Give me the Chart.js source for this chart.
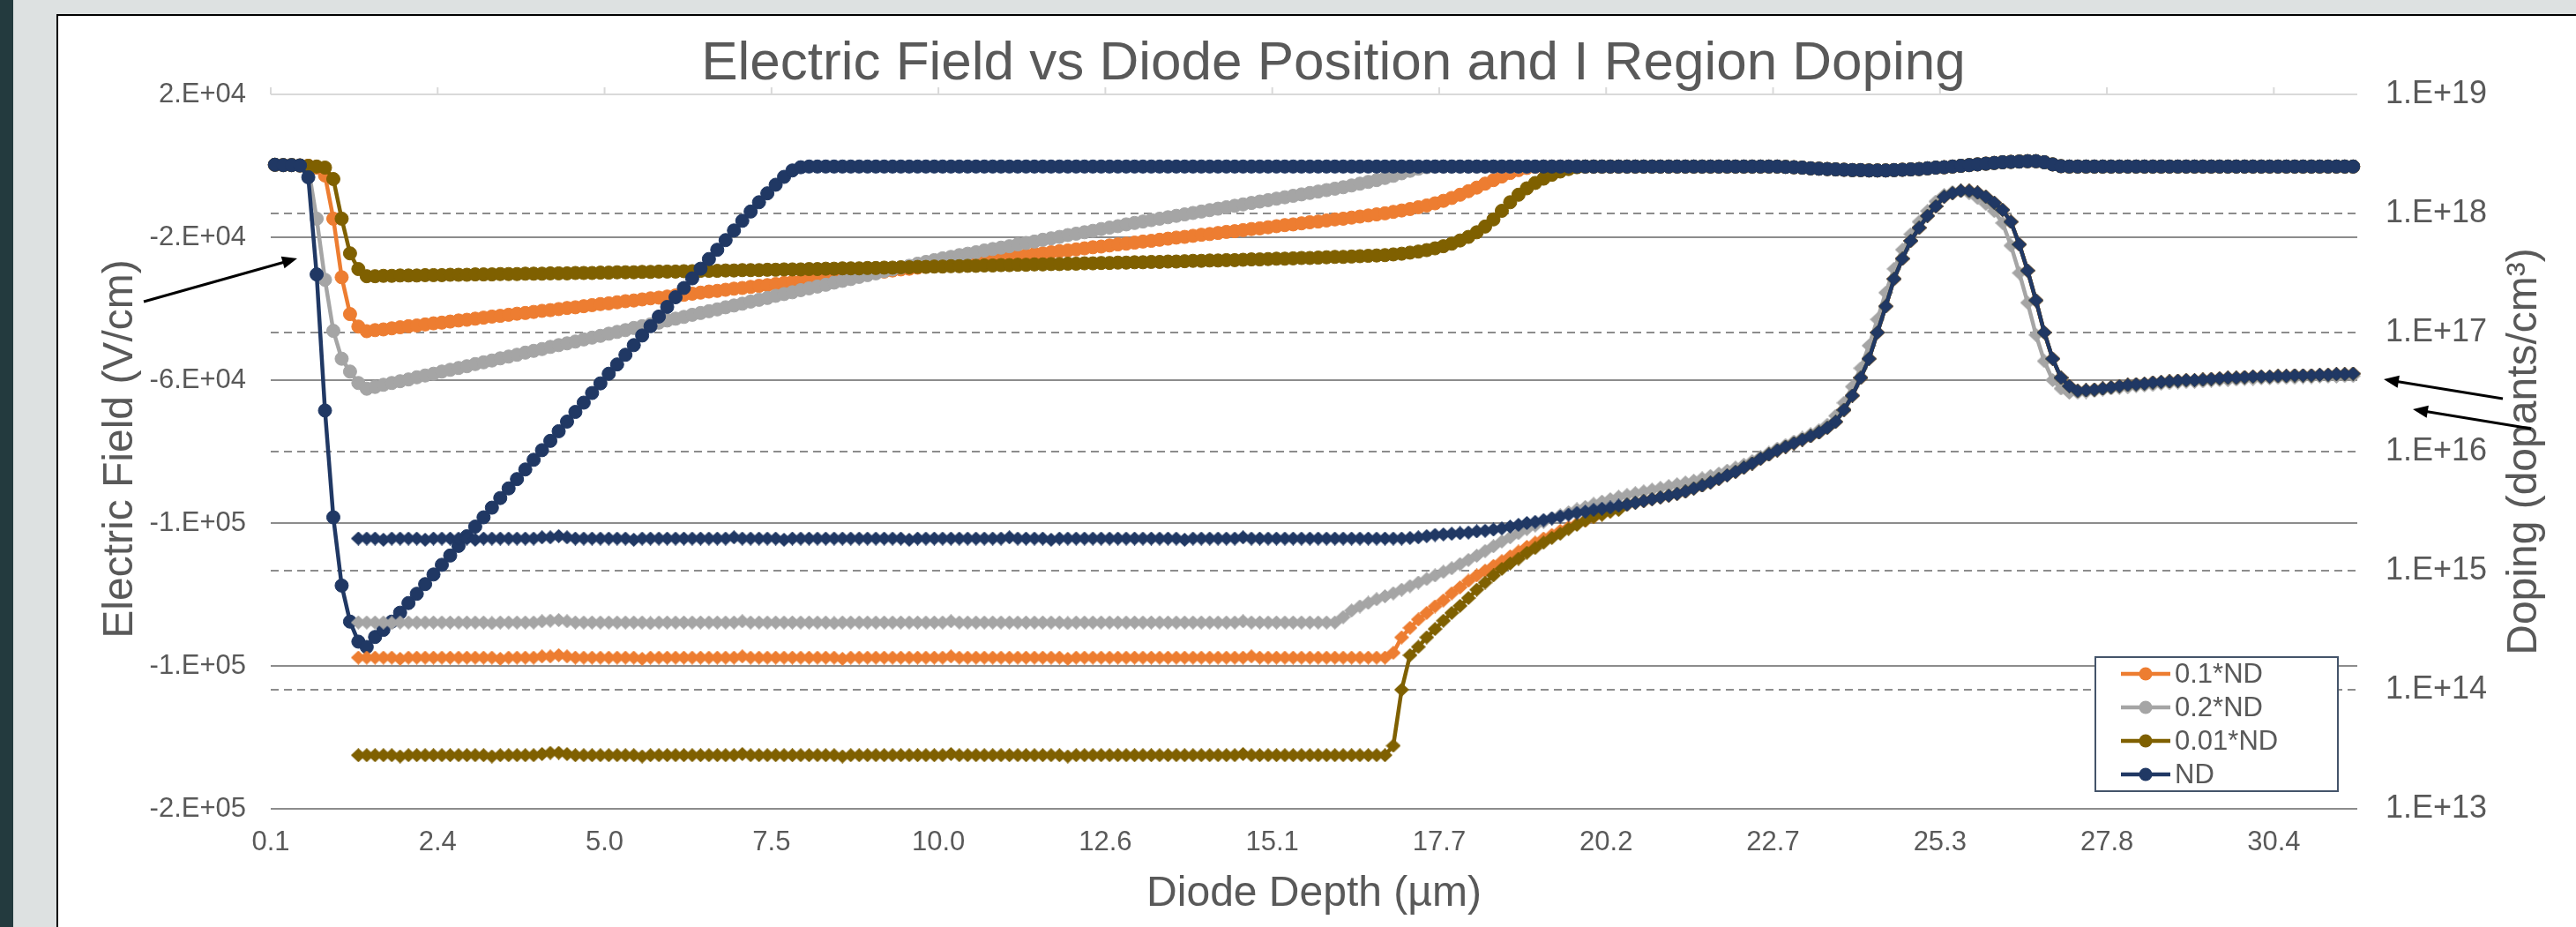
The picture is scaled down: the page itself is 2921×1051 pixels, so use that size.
<!DOCTYPE html>
<html>
<head>
<meta charset="utf-8">
<script src="https://cdn.jsdelivr.net/npm/chart.js@4.4.1/dist/chart.umd.min.js"></script>
<style>
  html, body { margin: 0; padding: 0; width: 2921px; height: 1051px; overflow: hidden; background: #dde1e1; }
  #band { position: absolute; left: 0; top: 0; width: 15px; height: 1051px; background: #233a3e; }
  #frame { position: absolute; left: 64px; top: 16px; width: 2900px; height: 1100px; background: #fff;
           border-left: 2px solid #000; border-top: 2px solid #000; }
  #chart { position: absolute; left: 0; top: 0; }
</style>
</head>
<body>
<div id="band"></div>
<div id="frame"></div>
<canvas id="chart" width="2921" height="1051"></canvas>
<script>
// ---- labels ----
const chartTitle = 'Electric Field vs Diode Position and I Region Doping';
const xTitle = 'Diode Depth (\u00b5m)';
const yTitle = 'Electric Field (V/cm)';
const y2Title = 'Doping (dopants/cm\u00b3)';
const seriesNames = ['0.1*ND', '0.2*ND', '0.01*ND', 'ND'];
const seriesColors = ['#ED7D31', '#A5A5A5', '#7F6000', '#203864'];

// depth labels shown every 20 mesh points
const depthTicks = ['0.1', '2.4', '5.0', '7.5', '10.0', '12.6', '15.1', '17.7', '20.2', '22.7', '25.3', '27.8', '30.4'];
const fieldTickValues = [-180000, -140000, -100000, -60000, -20000, 20000];
const fieldTickLabels = ['-2.E+05', '-1.E+05', '-1.E+05', '-6.E+04', '-2.E+04', '2.E+04'];
const dopingTickValues = [1e13, 1e14, 1e15, 1e16, 1e17, 1e18, 1e19];
const dopingTickLabels = ['1.E+13', '1.E+14', '1.E+15', '1.E+16', '1.E+17', '1.E+18', '1.E+19'];

// ---- electric field, kV/cm, one value per mesh point ----
const fieldND = [
  0.3,0.2,0.2,0.1,-3.2,-30.4,-68.5,-98.4,-117.5,-127.6,
  -133.2,-134.7,-131.9,-129.9,-127.6,-125.1,-122.4,-119.8,-117.1,-114.4,
  -111.7,-109.1,-106.4,-103.7,-101.0,-98.4,-95.7,-93.0,-90.3,-87.7,
  -85.0,-82.3,-79.6,-77.0,-74.3,-71.6,-68.9,-66.3,-63.6,-60.9,
  -58.2,-55.6,-52.9,-50.2,-47.5,-44.9,-42.2,-39.5,-36.8,-34.2,
  -31.5,-28.8,-26.1,-23.5,-20.8,-18.1,-15.4,-12.8,-10.2,-7.7,
  -5.3,-3.1,-1.3,-0.4,-0.2,-0.2,-0.2,-0.2,-0.2,-0.2,
  -0.2,-0.2,-0.2,-0.2,-0.2,-0.2,-0.2,-0.2,-0.2,-0.2,
  -0.2,-0.2,-0.2,-0.2,-0.2,-0.2,-0.2,-0.2,-0.2,-0.2,
  -0.2,-0.2,-0.2,-0.2,-0.2,-0.2,-0.2,-0.2,-0.2,-0.2,
  -0.2,-0.2,-0.2,-0.2,-0.2,-0.2,-0.2,-0.2,-0.2,-0.2,
  -0.2,-0.2,-0.2,-0.2,-0.2,-0.2,-0.2,-0.2,-0.2,-0.2,
  -0.2,-0.2,-0.2,-0.2,-0.2,-0.2,-0.2,-0.2,-0.2,-0.2,
  -0.2,-0.2,-0.2,-0.2,-0.2,-0.2,-0.2,-0.2,-0.2,-0.2,
  -0.2,-0.2,-0.2,-0.2,-0.2,-0.2,-0.2,-0.2,-0.2,-0.2,
  -0.2,-0.2,-0.2,-0.2,-0.2,-0.2,-0.2,-0.2,-0.2,-0.2,
  -0.2,-0.2,-0.2,-0.2,-0.2,-0.2,-0.2,-0.2,-0.2,-0.2,
  -0.2,-0.2,-0.2,-0.2,-0.2,-0.2,-0.2,-0.2,-0.2,-0.2,
  -0.2,-0.3,-0.4,-0.5,-0.7,-0.8,-0.9,-1.0,-1.1,-1.2,
  -1.2,-1.3,-1.3,-1.3,-1.2,-1.1,-1.0,-0.9,-0.7,-0.5,
  -0.4,-0.2,0.0,0.2,0.4,0.6,0.8,1.0,1.1,1.2,
  1.3,1.3,1.0,0.4,-0.1,-0.2,-0.2,-0.2,-0.2,-0.2,
  -0.2,-0.2,-0.2,-0.2,-0.2,-0.2,-0.2,-0.2,-0.2,-0.2,
  -0.2,-0.2,-0.2,-0.2,-0.2,-0.2,-0.2,-0.2,-0.2,-0.2,
  -0.2,-0.2,-0.2,-0.2,-0.2,-0.2,-0.2,-0.2,-0.2,-0.2
];
const field01 = [
  0.3,0.2,0.2,0.1,0.0,-0.5,-2.7,-14.8,-31.2,-41.5,
  -45.0,-46.3,-46.0,-45.8,-45.5,-45.2,-44.9,-44.7,-44.4,-44.1,
  -43.9,-43.6,-43.3,-43.1,-42.8,-42.5,-42.2,-42.0,-41.7,-41.4,
  -41.2,-40.9,-40.6,-40.4,-40.1,-39.8,-39.6,-39.3,-39.0,-38.7,
  -38.5,-38.2,-37.9,-37.7,-37.4,-37.1,-36.9,-36.6,-36.3,-36.1,
  -35.8,-35.5,-35.2,-35.0,-34.7,-34.4,-34.2,-33.9,-33.6,-33.4,
  -33.1,-32.8,-32.5,-32.3,-32.0,-31.7,-31.5,-31.2,-30.9,-30.7,
  -30.4,-30.1,-29.9,-29.6,-29.3,-29.0,-28.8,-28.5,-28.2,-28.0,
  -27.7,-27.4,-27.2,-26.9,-26.6,-26.3,-26.1,-25.8,-25.5,-25.3,
  -25.0,-24.7,-24.5,-24.2,-23.9,-23.7,-23.4,-23.1,-22.8,-22.6,
  -22.3,-22.0,-21.8,-21.5,-21.2,-21.0,-20.7,-20.4,-20.1,-19.9,
  -19.6,-19.3,-19.1,-18.8,-18.5,-18.3,-18.0,-17.7,-17.5,-17.2,
  -16.9,-16.6,-16.4,-16.1,-15.8,-15.6,-15.3,-15.0,-14.8,-14.5,
  -14.2,-13.9,-13.6,-13.3,-12.9,-12.5,-12.1,-11.6,-11.1,-10.5,
  -9.8,-9.0,-8.1,-7.1,-6.1,-5.0,-4.0,-3.0,-2.0,-1.2,
  -0.6,-0.3,-0.2,-0.2,-0.2,-0.2,-0.2,-0.2,-0.2,-0.2,
  -0.2,-0.2,-0.2,-0.2,-0.2,-0.2,-0.2,-0.2,-0.2,-0.2,
  -0.2,-0.2,-0.2,-0.2,-0.2,-0.2,-0.2,-0.2,-0.2,-0.2,
  -0.2,-0.3,-0.4,-0.5,-0.7,-0.8,-0.9,-1.0,-1.1,-1.2,
  -1.2,-1.3,-1.3,-1.3,-1.2,-1.1,-1.0,-0.9,-0.7,-0.5,
  -0.4,-0.2,0.0,0.2,0.4,0.6,0.8,1.0,1.1,1.2,
  1.3,1.3,1.0,0.4,-0.1,-0.2,-0.2,-0.2,-0.2,-0.2,
  -0.2,-0.2,-0.2,-0.2,-0.2,-0.2,-0.2,-0.2,-0.2,-0.2,
  -0.2,-0.2,-0.2,-0.2,-0.2,-0.2,-0.2,-0.2,-0.2,-0.2,
  -0.2,-0.2,-0.2,-0.2,-0.2,-0.2,-0.2,-0.2,-0.2,-0.2
];
const field02 = [
  0.3,0.2,0.2,0.1,-0.5,-14.8,-31.9,-46.2,-54.0,-57.6,
  -60.8,-62.4,-61.9,-61.3,-60.8,-60.3,-59.8,-59.2,-58.7,-58.2,
  -57.6,-57.1,-56.6,-56.1,-55.5,-55.0,-54.5,-53.9,-53.4,-52.9,
  -52.3,-51.8,-51.3,-50.7,-50.2,-49.7,-49.2,-48.6,-48.1,-47.6,
  -47.0,-46.5,-46.0,-45.4,-44.9,-44.4,-43.9,-43.3,-42.8,-42.3,
  -41.7,-41.2,-40.7,-40.2,-39.6,-39.1,-38.6,-38.0,-37.5,-37.0,
  -36.4,-35.9,-35.4,-34.8,-34.3,-33.8,-33.3,-32.7,-32.2,-31.7,
  -31.1,-30.6,-30.1,-29.5,-29.0,-28.5,-28.0,-27.4,-26.9,-26.4,
  -25.9,-25.5,-25.0,-24.6,-24.2,-23.7,-23.3,-22.9,-22.5,-22.0,
  -21.6,-21.2,-20.7,-20.3,-19.9,-19.4,-19.0,-18.6,-18.2,-17.7,
  -17.3,-16.9,-16.4,-16.0,-15.6,-15.2,-14.8,-14.4,-14.0,-13.6,
  -13.2,-12.8,-12.4,-12.0,-11.6,-11.2,-10.8,-10.4,-10.0,-9.6,
  -9.2,-8.8,-8.4,-8.0,-7.6,-7.2,-6.8,-6.4,-6.0,-5.5,
  -5.0,-4.5,-4.0,-3.4,-2.8,-2.1,-1.4,-0.8,-0.4,-0.2,
  -0.2,-0.2,-0.2,-0.2,-0.2,-0.2,-0.2,-0.2,-0.2,-0.2,
  -0.2,-0.2,-0.2,-0.2,-0.2,-0.2,-0.2,-0.2,-0.2,-0.2,
  -0.2,-0.2,-0.2,-0.2,-0.2,-0.2,-0.2,-0.2,-0.2,-0.2,
  -0.2,-0.2,-0.2,-0.2,-0.2,-0.2,-0.2,-0.2,-0.2,-0.2,
  -0.2,-0.3,-0.4,-0.5,-0.7,-0.8,-0.9,-1.0,-1.1,-1.2,
  -1.2,-1.3,-1.3,-1.3,-1.2,-1.1,-1.0,-0.9,-0.7,-0.5,
  -0.4,-0.2,0.0,0.2,0.4,0.6,0.8,1.0,1.1,1.2,
  1.3,1.3,1.0,0.4,-0.1,-0.2,-0.2,-0.2,-0.2,-0.2,
  -0.2,-0.2,-0.2,-0.2,-0.2,-0.2,-0.2,-0.2,-0.2,-0.2,
  -0.2,-0.2,-0.2,-0.2,-0.2,-0.2,-0.2,-0.2,-0.2,-0.2,
  -0.2,-0.2,-0.2,-0.2,-0.2,-0.2,-0.2,-0.2,-0.2,-0.2
];
const field001 = [
  0.3,0.2,0.2,0.1,0.0,-0.2,-0.5,-3.7,-14.8,-24.5,
  -28.9,-30.9,-30.9,-30.8,-30.8,-30.7,-30.7,-30.7,-30.6,-30.6,
  -30.6,-30.5,-30.5,-30.5,-30.4,-30.4,-30.4,-30.3,-30.3,-30.3,
  -30.2,-30.2,-30.2,-30.1,-30.1,-30.1,-30.0,-30.0,-30.0,-29.9,
  -29.9,-29.8,-29.8,-29.8,-29.7,-29.7,-29.6,-29.6,-29.6,-29.5,
  -29.5,-29.4,-29.4,-29.4,-29.3,-29.3,-29.2,-29.2,-29.2,-29.1,
  -29.1,-29.0,-29.0,-29.0,-28.9,-28.9,-28.8,-28.8,-28.7,-28.7,
  -28.7,-28.6,-28.6,-28.5,-28.5,-28.4,-28.4,-28.3,-28.3,-28.2,
  -28.2,-28.1,-28.1,-28.0,-28.0,-27.9,-27.9,-27.8,-27.8,-27.7,
  -27.7,-27.6,-27.6,-27.5,-27.5,-27.4,-27.4,-27.3,-27.3,-27.2,
  -27.2,-27.1,-27.1,-27.0,-27.0,-26.9,-26.9,-26.8,-26.8,-26.7,
  -26.6,-26.6,-26.5,-26.5,-26.4,-26.4,-26.3,-26.2,-26.2,-26.1,
  -26.0,-26.0,-25.9,-25.8,-25.8,-25.7,-25.6,-25.5,-25.5,-25.4,
  -25.3,-25.2,-25.1,-25.0,-24.8,-24.6,-24.3,-24.0,-23.6,-23.1,
  -22.5,-21.8,-20.9,-19.9,-18.6,-17.0,-15.0,-12.6,-10.2,-8.1,
  -6.3,-4.8,-3.6,-2.5,-1.6,-0.9,-0.4,-0.2,-0.2,-0.2,
  -0.2,-0.2,-0.2,-0.2,-0.2,-0.2,-0.2,-0.2,-0.2,-0.2,
  -0.2,-0.2,-0.2,-0.2,-0.2,-0.2,-0.2,-0.2,-0.2,-0.2,
  -0.2,-0.3,-0.4,-0.5,-0.7,-0.8,-0.9,-1.0,-1.1,-1.2,
  -1.2,-1.3,-1.3,-1.3,-1.2,-1.1,-1.0,-0.9,-0.7,-0.5,
  -0.4,-0.2,0.0,0.2,0.4,0.6,0.8,1.0,1.1,1.2,
  1.3,1.3,1.0,0.4,-0.1,-0.2,-0.2,-0.2,-0.2,-0.2,
  -0.2,-0.2,-0.2,-0.2,-0.2,-0.2,-0.2,-0.2,-0.2,-0.2,
  -0.2,-0.2,-0.2,-0.2,-0.2,-0.2,-0.2,-0.2,-0.2,-0.2,
  -0.2,-0.2,-0.2,-0.2,-0.2,-0.2,-0.2,-0.2,-0.2,-0.2
];

// ---- doping, log10(dopants/cm^3); no value inside the p+ contact ----
// I region and start of the n side (points 0-161)
const dopLogND_head = [
  null,null,null,null,null,null,null,null,null,null,
  15.27,15.27,15.27,15.26,15.27,15.27,15.27,15.27,15.26,15.27,
  15.27,15.27,15.27,15.27,15.26,15.27,15.27,15.27,15.27,15.27,
  15.27,15.27,15.28,15.28,15.29,15.28,15.27,15.27,15.27,15.27,
  15.27,15.27,15.27,15.26,15.27,15.27,15.27,15.27,15.27,15.27,
  15.27,15.27,15.27,15.27,15.27,15.28,15.27,15.27,15.27,15.27,
  15.27,15.26,15.27,15.27,15.27,15.27,15.27,15.27,15.27,15.27,
  15.27,15.27,15.27,15.27,15.27,15.27,15.26,15.27,15.27,15.27,
  15.27,15.27,15.27,15.27,15.27,15.27,15.27,15.27,15.28,15.27,
  15.27,15.27,15.27,15.26,15.27,15.27,15.27,15.27,15.27,15.27,
  15.27,15.27,15.27,15.27,15.27,15.27,15.27,15.27,15.27,15.26,
  15.27,15.27,15.27,15.27,15.27,15.27,15.28,15.27,15.27,15.27,
  15.27,15.27,15.27,15.27,15.27,15.27,15.27,15.27,15.27,15.27,
  15.27,15.27,15.27,15.27,15.27,15.27,15.275,15.28,15.29,15.30,
  15.305,15.31,15.315,15.32,15.33,15.335,15.345,15.355,15.37,15.385,
  15.40,15.41,15.425,15.44,15.455,15.47,15.485,15.495,15.51,15.52,
  15.53,15.545
];
const dopLog01_head = [
  null,null,null,null,null,null,null,null,null,null,
  14.27,14.27,14.27,14.27,14.27,14.26,14.27,14.27,14.27,14.27,
  14.27,14.27,14.27,14.27,14.27,14.27,14.27,14.26,14.27,14.27,
  14.27,14.27,14.28,14.28,14.29,14.28,14.27,14.27,14.27,14.27,
  14.27,14.27,14.27,14.27,14.26,14.27,14.27,14.27,14.27,14.27,
  14.27,14.27,14.27,14.27,14.27,14.27,14.28,14.27,14.27,14.27,
  14.27,14.27,14.27,14.27,14.27,14.27,14.27,14.27,14.26,14.27,
  14.27,14.27,14.27,14.27,14.27,14.27,14.27,14.27,14.27,14.27,
  14.27,14.28,14.27,14.27,14.27,14.27,14.27,14.27,14.27,14.27,
  14.27,14.27,14.27,14.27,14.27,14.26,14.27,14.27,14.27,14.27,
  14.27,14.27,14.27,14.27,14.27,14.27,14.27,14.27,14.27,14.27,
  14.27,14.27,14.27,14.27,14.27,14.27,14.27,14.28,14.27,14.27,
  14.27,14.27,14.27,14.27,14.27,14.27,14.27,14.27,14.27,14.27,
  14.27,14.27,14.27,14.27,14.31,14.44,14.52,14.59,14.645,14.70,
  14.75,14.81,14.86,14.915,14.96,15.00,15.04,15.08,15.12,15.16,
  15.20,15.235,15.27,15.30,15.335,15.365,15.395,15.42,15.45,15.475,
  15.50,15.525
];
const dopLog001_head = [
  null,null,null,null,null,null,null,null,null,null,
  13.45,13.45,13.45,13.45,13.45,13.44,13.45,13.45,13.45,13.45,
  13.45,13.45,13.45,13.45,13.45,13.45,13.44,13.45,13.45,13.45,
  13.45,13.45,13.46,13.47,13.47,13.46,13.45,13.45,13.45,13.45,
  13.45,13.45,13.45,13.45,13.44,13.45,13.45,13.45,13.45,13.45,
  13.45,13.45,13.45,13.45,13.45,13.45,13.46,13.45,13.45,13.45,
  13.45,13.45,13.45,13.45,13.45,13.45,13.45,13.45,13.44,13.45,
  13.45,13.45,13.45,13.45,13.45,13.45,13.45,13.45,13.45,13.45,
  13.45,13.46,13.45,13.45,13.45,13.45,13.45,13.45,13.45,13.45,
  13.45,13.45,13.45,13.45,13.45,13.44,13.45,13.45,13.45,13.45,
  13.45,13.45,13.45,13.45,13.45,13.45,13.45,13.45,13.45,13.45,
  13.45,13.45,13.45,13.45,13.45,13.45,13.46,13.45,13.45,13.45,
  13.45,13.45,13.45,13.45,13.45,13.45,13.45,13.45,13.45,13.45,
  13.45,13.45,13.45,13.45,13.53,14.00,14.29,14.36,14.44,14.51,
  14.58,14.645,14.705,14.77,14.84,14.90,14.96,15.015,15.06,15.10,
  15.15,15.19,15.235,15.275,15.31,15.35,15.385,15.42,15.45,15.47,
  15.495,15.51
];
// n-side profile shared by ND, 0.1*ND and 0.01*ND (points 162-249)
const dopLogTail = [
  15.555,15.57,15.585,15.60,15.615,15.63,15.645,15.665,
  15.69,15.715,15.74,15.77,15.80,15.83,15.865,15.90,15.94,15.975,
  16.01,16.04,16.07,16.10,16.13,16.16,16.20,16.25,16.35,16.47,
  16.62,16.78,17.00,17.22,17.45,17.62,17.77,17.88,17.98,18.06,
  18.14,18.17,18.19,18.19,18.175,18.14,18.09,18.03,17.93,17.74,
  17.52,17.27,17.00,16.78,16.62,16.55,16.51,16.515,16.52,16.53,
  16.54,16.55,16.56,16.565,16.57,16.58,16.585,16.59,16.595,16.60,
  16.60,16.605,16.61,16.615,16.62,16.62,16.625,16.63,16.63,16.63,
  16.635,16.635,16.64,16.64,16.64,16.645,16.645,16.65,16.65,16.655
];
const dopLog02 = [
  null,null,null,null,null,null,null,null,null,null,
  14.565,14.565,14.565,14.565,14.56,14.565,14.565,14.565,14.565,14.565,
  14.565,14.565,14.565,14.565,14.565,14.565,14.56,14.565,14.565,14.565,
  14.565,14.565,14.575,14.58,14.585,14.575,14.565,14.565,14.565,14.565,
  14.565,14.565,14.565,14.565,14.565,14.56,14.565,14.565,14.565,14.565,
  14.565,14.565,14.565,14.565,14.565,14.565,14.575,14.565,14.565,14.565,
  14.565,14.565,14.565,14.565,14.565,14.565,14.565,14.56,14.565,14.565,
  14.565,14.565,14.565,14.565,14.565,14.565,14.565,14.565,14.565,14.565,
  14.565,14.575,14.565,14.565,14.565,14.565,14.565,14.565,14.565,14.565,
  14.565,14.565,14.565,14.565,14.565,14.56,14.565,14.565,14.565,14.565,
  14.565,14.565,14.565,14.565,14.565,14.565,14.565,14.565,14.565,14.565,
  14.565,14.565,14.565,14.565,14.565,14.565,14.575,14.565,14.565,14.565,
  14.565,14.565,14.565,14.565,14.565,14.565,14.565,14.565,14.61,14.665,
  14.70,14.73,14.76,14.785,14.81,14.84,14.87,14.90,14.93,14.96,
  14.99,15.02,15.055,15.09,15.125,15.165,15.205,15.245,15.28,15.315,
  15.35,15.38,15.41,15.44,15.465,15.49,15.515,15.535,15.56,15.58,
  15.60,15.62,15.635,15.65,15.665,15.68,15.695,15.71,15.725,15.74,
  15.755,15.775,15.795,15.815,15.84,15.865,15.89,15.92,15.955,15.99,
  16.025,16.055,16.085,16.115,16.145,16.18,16.225,16.30,16.41,16.545,
  16.70,16.89,17.11,17.335,17.535,17.695,17.825,17.93,18.02,18.10,
  18.155,18.18,18.19,18.17,18.13,18.08,18.02,17.92,17.73,17.50,
  17.25,16.98,16.76,16.60,16.53,16.495,16.495,16.50,16.51,16.52,
  16.53,16.535,16.54,16.55,16.555,16.56,16.57,16.575,16.58,16.585,
  16.585,16.59,16.595,16.60,16.60,16.605,16.61,16.61,16.615,16.615,
  16.62,16.62,16.62,16.625,16.625,16.63,16.63,16.63,16.635,16.635
];

// ---- datasets ----
const FONT = '"Liberation Sans", Arial, Helvetica, sans-serif';
Chart.defaults.font.family = FONT;

function diamond(color) {
  const w = 17, h = 16;
  const c = document.createElement('canvas');
  c.width = w; c.height = h;
  const g = c.getContext('2d');
  g.fillStyle = color;
  g.beginPath();
  g.moveTo(w / 2, 0); g.lineTo(w, h / 2); g.lineTo(w / 2, h); g.lineTo(0, h / 2);
  g.closePath(); g.fill();
  return c;
}

const fieldPoints = arr => arr.map((v, i) => ({ x: i, y: v * 1000 }));
const dopingPoints = arr => arr.map((v, i) => ({ x: i, y: v === null ? null : Math.pow(10, v) }));

function fieldSet(name, arr, color) {
  return {
    label: name, data: fieldPoints(arr), yAxisID: 'y', xAxisID: 'x',
    borderColor: color, backgroundColor: color, borderWidth: 4.5,
    pointStyle: 'circle', pointRadius: 7.5, pointBorderWidth: 1,
    pointBackgroundColor: color, pointBorderColor: color,
    tension: 0, clip: false
  };
}
function dopingSet(name, arr, color) {
  return {
    label: name, data: dopingPoints(arr), yAxisID: 'y2', xAxisID: 'x',
    borderColor: color, backgroundColor: color, borderWidth: 4.5,
    pointStyle: diamond(color), pointRadius: 7,
    tension: 0, clip: false, spanGaps: false
  };
}

// first dataset is drawn on top
const datasets = [
  dopingSet('ND doping', dopLogND_head.concat(dopLogTail), seriesColors[3]),
  dopingSet('0.01*ND doping', dopLog001_head.concat(dopLogTail), seriesColors[2]),
  dopingSet('0.2*ND doping', dopLog02, seriesColors[1]),
  dopingSet('0.1*ND doping', dopLog01_head.concat(dopLogTail), seriesColors[0]),
  fieldSet(seriesNames[3], fieldND, seriesColors[3]),
  fieldSet(seriesNames[2], field001, seriesColors[2]),
  fieldSet(seriesNames[1], field02, seriesColors[1]),
  fieldSet(seriesNames[0], field01, seriesColors[0])
];

// ---- frame decorations: top axis line, titles, legend, call-out arrows ----
function arrow(ctx, x1, y1, x2, y2) {
  const a = Math.atan2(y2 - y1, x2 - x1), L = 17, W = 7;
  ctx.beginPath();
  ctx.moveTo(x1, y1);
  ctx.lineTo(x2 - 0.8 * L * Math.cos(a), y2 - 0.8 * L * Math.sin(a));
  ctx.stroke();
  ctx.beginPath();
  ctx.moveTo(x2, y2);
  ctx.lineTo(x2 - L * Math.cos(a) + W * Math.sin(a), y2 - L * Math.sin(a) - W * Math.cos(a));
  ctx.lineTo(x2 - L * Math.cos(a) - W * Math.sin(a), y2 - L * Math.sin(a) + W * Math.cos(a));
  ctx.closePath();
  ctx.fill();
}

const decor = {
  id: 'decor',
  beforeDatasetsDraw(chart) {
    const { ctx, chartArea: a, scales: { x } } = chart;
    ctx.save();
    ctx.strokeStyle = '#d9d9d9';
    ctx.lineWidth = 2;
    ctx.beginPath();
    ctx.moveTo(a.left, a.top); ctx.lineTo(a.right, a.top);
    x.ticks.forEach(t => {
      const px = x.getPixelForValue(t.value);
      ctx.moveTo(px, a.top); ctx.lineTo(px, a.top - 8);
    });
    ctx.stroke();
    ctx.restore();
  },
  afterDraw(chart) {
    const { ctx, chartArea: a } = chart;
    const midY = (a.top + a.bottom) / 2;
    ctx.save();
    ctx.fillStyle = '#595959';
    ctx.textAlign = 'center';
    ctx.textBaseline = 'alphabetic';
    ctx.font = '62px ' + FONT;
    ctx.fillText(chartTitle, 1512, 90);
    ctx.font = '48px ' + FONT;
    ctx.fillText(xTitle, (a.left + a.right) / 2, 1027);
    ctx.save(); ctx.translate(150, midY - 3); ctx.rotate(-Math.PI / 2); ctx.fillText(yTitle, 0, 0); ctx.restore();
    ctx.save(); ctx.translate(2876, midY); ctx.rotate(-Math.PI / 2); ctx.fillText(y2Title, 0, 0); ctx.restore();

    // legend (electric field series)
    const lx = 2376, ly = 745, lw = 275, lh = 152;
    ctx.fillStyle = '#fff';
    ctx.fillRect(lx, ly, lw, lh);
    ctx.strokeStyle = '#44546a';
    ctx.lineWidth = 2;
    ctx.strokeRect(lx, ly, lw, lh);
    ctx.font = '31px ' + FONT;
    ctx.textAlign = 'left';
    ctx.textBaseline = 'middle';
    seriesNames.forEach((name, k) => {
      const cy = ly + 19 + k * 38;
      ctx.strokeStyle = seriesColors[k];
      ctx.fillStyle = seriesColors[k];
      ctx.lineWidth = 4.5;
      ctx.beginPath(); ctx.moveTo(lx + 29, cy); ctx.lineTo(lx + 85, cy); ctx.stroke();
      ctx.beginPath(); ctx.arc(lx + 57, cy, 7.5, 0, Math.PI * 2); ctx.fill();
      ctx.fillStyle = '#595959';
      ctx.fillText(name, lx + 90, cy + 1);
    });

    // call-out arrows toward each axis' curves
    ctx.strokeStyle = '#000';
    ctx.fillStyle = '#000';
    ctx.lineWidth = 3;
    arrow(ctx, 163, 342, 337, 293);
    arrow(ctx, 2838, 452, 2703, 430);
    arrow(ctx, 2870, 486, 2736, 464);
    ctx.restore();
  }
};

new Chart(document.getElementById('chart'), {
  type: 'line',
  data: { datasets },
  plugins: [decor],
  options: {
    responsive: false,
    devicePixelRatio: 1,
    animation: false,
    events: [],
    layout: { padding: { top: 107, left: 0, right: 0, bottom: 0 } },
    plugins: { legend: { display: false }, tooltip: { enabled: false }, title: { display: false } },
    scales: {
      x: {
        type: 'linear', position: 'bottom', min: -0.5, max: 249.5,
        afterBuildTicks: s => { s.ticks = depthTicks.map((_, k) => ({ value: -0.5 + 20 * k })); },
        afterFit: s => { s.height = 134; },
        grid: { display: false, drawTicks: false },
        border: { display: false },
        ticks: { autoSkip: false, maxRotation: 0, padding: 20, color: '#595959', font: { size: 31 },
                 callback: (v, i) => depthTicks[i] }
      },
      y: {
        type: 'linear', position: 'left', min: -180000, max: 20000,
        afterBuildTicks: s => { s.ticks = fieldTickValues.map(v => ({ value: v })); },
        afterFit: s => { s.width = 307; },
        grid: { drawTicks: false, lineWidth: 2,
                color: c => (c.tick && c.tick.value === 20000) ? '#d9d9d9' : '#8c8c8c' },
        border: { display: false },
        ticks: { padding: 28, color: '#595959', font: { size: 31 },
                 callback: (v, i) => fieldTickLabels[i] }
      },
      y2: {
        type: 'logarithmic', position: 'right', min: 1e13, max: 1e19,
        afterBuildTicks: s => { s.ticks = dopingTickValues.map(v => ({ value: v })); },
        afterFit: s => { s.width = 248; },
        grid: { drawTicks: false, lineWidth: 2, drawOnChartArea: true,
                color: c => (c.tick && (c.tick.value === 1e13 || c.tick.value === 1e19)) ? 'rgba(0,0,0,0)' : '#8c8c8c' },
        border: { display: false, dash: [9, 6] },
        ticks: { padding: 32, color: '#595959', font: { size: 36 },
                 callback: (v, i) => dopingTickLabels[i] }
      }
    }
  }
});
</script>
</body>
</html>
